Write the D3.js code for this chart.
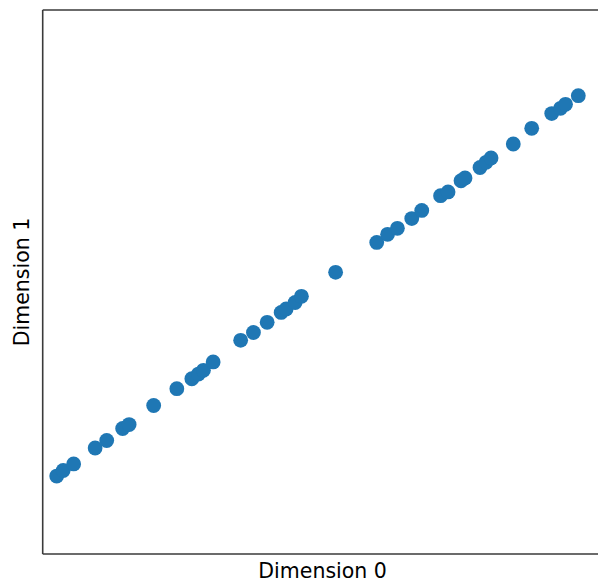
<!DOCTYPE html>
<html>
<head>
<meta charset="utf-8">
<script src="https://cdn.jsdelivr.net/npm/d3@7"></script>
<style>
  html, body { margin: 0; padding: 0; background: #fff; }
  svg { display: block; }
</style>
</head>
<body>
<script>
// Two-dimensional embedding: one point per sample
const dim0 = [
  -2.849, -2.779, -2.666, -2.434, -2.309, -2.137, -2.067, -1.802, -1.552, -1.390,
  -1.319, -1.265, -1.160, -0.863, -0.725, -0.577, -0.426, -0.372, -0.275, -0.207,
   0.162,  0.606,  0.723,  0.829,  0.984,  1.092,  1.295,  1.376,  1.516,  1.559,
   1.721,  1.786,  1.840,  2.080,  2.279,  2.495,  2.590,  2.644,  2.782
];
const dim1 = [
  -2.140, -2.079, -2.007, -1.831, -1.748, -1.616, -1.572, -1.362, -1.177, -1.067,
  -1.015, -0.974, -0.882, -0.643, -0.557, -0.445, -0.336, -0.298, -0.226, -0.158,
   0.107,  0.436,  0.526,  0.592,  0.700,  0.789,  0.952,  0.993,  1.117,  1.147,
   1.263,  1.320,  1.368,  1.522,  1.695,  1.858,  1.916,  1.960,  2.055
];
const xDomain = [-3, 3];
const yDomain = [-3, 3];
const xLabel = "Dimension 0";
const yLabel = "Dimension 1";

const W = 598, H = 582;
const plot = { left: 42.7, top: 10, right: 598.5, bottom: 554 };

const svg = d3.select("body").append("svg")
  .attr("width", W).attr("height", H);

const x = d3.scaleLinear().domain(xDomain).range([plot.left, plot.right]);
const y = d3.scaleLinear().domain(yDomain).range([plot.bottom, plot.top]);

const points = dim0.map((d, i) => ({ x: d, y: dim1[i] }));

svg.append("g")
  .selectAll("circle")
  .data(points)
  .join("circle")
  .attr("cx", d => x(d.x))
  .attr("cy", d => y(d.y))
  .attr("r", 7.4)
  .attr("fill", "#1f77b4");

// Axes frame without ticks; the right edge runs past the page
const frame = svg.append("g")
  .attr("fill", "none")
  .attr("stroke", "#3a3a3a")
  .attr("stroke-width", 1.6);
frame.append("line").attr("x1", plot.left).attr("x2", plot.left)
  .attr("y1", plot.top).attr("y2", plot.bottom);
frame.append("line").attr("x1", plot.left).attr("x2", plot.right + 10)
  .attr("y1", plot.top).attr("y2", plot.top);
frame.append("line").attr("x1", plot.left).attr("x2", plot.right + 10)
  .attr("y1", plot.bottom).attr("y2", plot.bottom);
frame.append("line").attr("x1", plot.right + 6).attr("x2", plot.right + 6)
  .attr("y1", plot.top).attr("y2", plot.bottom);

svg.append("text")
  .attr("x", (plot.left + plot.right) / 2 + 2)
  .attr("y", 578)
  .attr("text-anchor", "middle")
  .attr("font-family", "DejaVu Sans")
  .attr("font-size", 20.5)
  .attr("fill", "#000")
  .text(xLabel);

svg.append("text")
  .attr("transform", `translate(29,${(plot.top + plot.bottom) / 2}) rotate(-90)`)
  .attr("text-anchor", "middle")
  .attr("font-family", "DejaVu Sans")
  .attr("font-size", 20.5)
  .attr("fill", "#000")
  .text(yLabel);
</script>
</body>
</html>
